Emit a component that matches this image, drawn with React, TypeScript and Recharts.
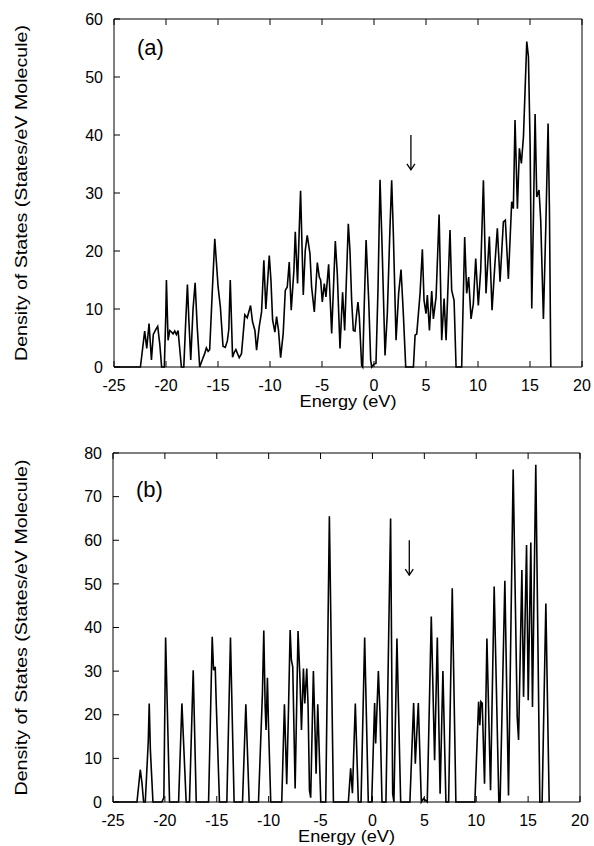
import { LineChart, Line, XAxis, YAxis, ReferenceLine } from "recharts";

const FONT = '"Liberation Sans", Arial, Helvetica, sans-serif';

const energyTicks = [-25, -20, -15, -10, -5, 0, 5, 10, 15, 20];
const dosTicksA = [0, 10, 20, 30, 40, 50, 60];
const dosTicksB = [0, 10, 20, 30, 40, 50, 60, 70, 80];

// panel (a)
const energyA = [
  -25, -22.46, -22.05, -21.85, -21.63, -21.4, -21.22, -21.0, -20.8, -20.6, -20.42, -20.16, -20.02, -19.96,
  -19.8, -19.64, -19.45, -19.32, -19.16, -19.0, -18.84, -18.52, -18.29, -18.1, -17.94, -17.8, -17.62, -17.4,
  -17.2, -17.0, -16.76, -16.5, -16.28, -16.12, -15.95, -15.8, -15.55, -15.31, -14.99, -14.77, -14.52, -14.3,
  -14.1, -13.96, -13.82, -13.6, -13.45, -13.28, -12.96, -12.74, -12.42, -12.19, -11.87, -11.68, -11.45,
  -11.29, -11.04, -10.81, -10.59, -10.4, -10.07, -9.91, -9.75, -9.53, -9.37, -9.18, -8.98, -8.73, -8.53,
  -8.34, -8.15, -7.96, -7.7, -7.57, -7.35, -7.19, -7.06, -6.8, -6.61, -6.42, -6.16, -6.0, -5.74, -5.45,
  -5.26, -5.13, -4.97, -4.78, -4.62, -4.36, -4.07, -3.72, -3.53, -3.27, -3.02, -2.82, -2.47, -2.31, -2.15,
  -1.99, -1.83, -1.67, -1.54, -1.41, -1.19, -1.09, -0.96, -0.76, -0.51, -0.32, -0.22, 0.0, 0.19, 0.39, 0.58,
  0.77, 1.06, 1.28, 1.54, 1.7, 1.86, 2.12, 2.37, 2.6, 2.82, 3.05, 3.79, 3.95, 4.11, 4.43, 4.65, 4.81, 5.0,
  5.13, 5.33, 5.55, 5.71, 5.97, 6.26, 6.51, 6.74, 6.93, 7.31, 7.47, 7.7, 7.89, 8.43, 8.72, 8.91, 9.1, 9.33,
  9.55, 9.78, 10.03, 10.26, 10.52, 10.77, 11.09, 11.35, 11.61, 11.86, 12.12, 12.44, 12.63, 12.92, 13.24,
  13.4, 13.56, 13.79, 13.98, 14.17, 14.37, 14.69, 14.85, 15.01, 15.17, 15.33, 15.49, 15.65, 15.87, 16.03,
  16.29, 16.52, 16.74, 16.87, 17.0,
];
const dosA = [
  0, 0, 6.2, 3.2, 7.5, 1.2, 5.6, 6.4, 7.0, 4.0, 0, 0, 9, 15,
  4.6, 6.3, 6.0, 5.7, 6.2, 5.6, 6.3, 0, 0, 8, 14.2, 8, 1.2, 10,
  14.5, 7, 0, 1.3, 2.3, 3.3, 2.7, 3.0, 13, 22.1, 13.8, 10.3, 3.6, 3.4,
  4.5, 6.5, 15, 1.7, 2.5, 3.0, 1.6, 2.3, 9, 8.5, 10.6, 7.8, 6.3,
  2.9, 6.9, 9.5, 18.4, 10, 19.2, 15, 8.1, 6, 8.7, 6.3, 1.6, 5.8, 13.2,
  13.8, 18.1, 9.8, 16.7, 23.3, 14.4, 23.6, 30.4, 12.4, 20.1, 22.7, 19.6, 13.8, 9.5, 18,
  15.5, 15, 11.2, 14.4, 12.1, 17.7, 5.8, 21.7, 16.1, 3.2, 12.9, 6.3, 24.7, 20, 11.5,
  6.3, 6.2, 9.2, 11.2, 8.6, 0.3, 0, 9.2, 21.9, 11.5, 1.2, 0, 0.5, 0.6, 13.8, 32.3,
  21.3, 2, 9.2, 24.2, 32.2, 23, 4.6, 12.7, 16.8, 9.2, 0, 0, 5.5, 5.7, 12.7, 20.3, 11.5, 9.2,
  12.4, 6.3, 13.1, 8.3, 12.1, 26.3, 4.6, 11.8, 4.6, 23.6, 13.2, 11.5, 0, 0, 22.4, 12.7, 15.5, 8.3,
  10.9, 18.7, 10.6, 16.7, 32.2, 12.7, 22.5, 9.8, 17.3, 23.9, 14.7, 25, 25.3, 15.2, 28.5,
  27.3, 42.6, 27.3, 37.7, 35.1, 39.7, 56.1, 53.5, 38.5, 10.1, 25.9, 43.6, 29.3, 30.5, 25.3,
  8.3, 24.2, 42, 27, 0,
];

// panel (b)
const energyB = [
  -25, -22.69, -22.37, -22.21, -22.05, -21.89, -21.6, -21.51, -21.4, -21.15, -20.29, -20.1, -19.93, -19.55,
  -18.68, -18.36, -17.95, -17.63, -17.27, -16.98, -15.79, -15.44, -15.31, -15.15, -15.06, -14.74, -14.03,
  -13.68, -13.33, -12.52, -12.2, -11.88, -10.98, -10.6, -10.47, -10.34, -10.25, -10.12, -10.02, -9.8, -8.74,
  -8.48, -8.26, -8.1, -7.93, -7.81, -7.68, -7.45, -7.17, -6.98, -6.84, -6.65, -6.52, -6.33, -6.2, -6.07,
  -5.95, -5.69, -5.56, -5.43, -5.27, -5.14, -4.98, -4.5, -4.15, -3.76, -2.32, -2.1, -1.93, -1.65, -1.36,
  -1.1, -0.75, -0.4, -0.07, 0.21, 0.31, 0.41, 0.57, 0.73, 0.92, 1.3, 1.75, 1.95, 2.07, 2.36, 2.72, 3.61,
  3.97, 4.13, 4.42, 4.71, 4.93, 5.28, 5.67, 5.99, 6.25, 6.52, 6.79, 7.08, 7.34, 7.69, 8.04, 9.87, 10.23,
  10.35, 10.45, 10.58, 10.8, 11.03, 11.38, 11.73, 12.18, 12.3, 12.76, 13.11, 13.56, 13.95, 14.08, 14.4,
  14.56, 14.85, 15.01, 15.26, 15.42, 15.74, 16.13, 16.35, 16.71, 17.03,
];
const dosB = [
  0, 0, 7.4, 4.4, 0, 0, 14, 22.6, 12, 0, 0, 1, 37.7, 0,
  0, 22.6, 0, 0, 30.2, 0, 0, 37.9, 30.2, 31, 23.3, 0, 0,
  37.7, 0, 0, 22.4, 0, 0, 25, 39.3, 22, 16.5, 28.5, 18, 0, 0,
  22.4, 4.1, 20, 39.4, 32.5, 31, 3.1, 39.2, 28, 16.5, 30.6, 22.6, 30.6, 21.8, 2.7,
  1, 30, 18.8, 6.5, 22.4, 12.6, 0, 0, 65.5, 0, 0, 7.7, 2, 22.6, 0,
  0, 37.7, 0, 0, 22.7, 13.4, 19.5, 30, 20.3, 0, 0, 65, 1.9, 0, 37.5, 0, 0,
  22.7, 8.8, 22.7, 0, 0.8, 0, 42.5, 9.6, 37.7, 1.9, 30, 0, 0, 49, 0, 0, 23,
  17.6, 23, 22.6, 4.2, 37.5, 2.7, 49.4, 0, 0, 50.7, 1.5, 76.2, 19.5, 14.2, 53.2,
  24.1, 58.9, 23.3, 59.5, 21.8, 77.3, 0, 0, 45.5, 0,
];

// arrow marking the gap (energy, top value, bottom value)
const arrowEnergy = 3.55;
const arrowA = [40, 34];
const arrowB = [60, 52];

const yTitle = "Density of States (States/eV Molecule)";
const xTitle = "Energy (eV)";

const Arrow = (props: any) => {
  const { x1, y1, x2, y2 } = props;
  return (
    <g stroke="#000" strokeWidth={1.3} fill="none">
      <line x1={x1} y1={y1} x2={x2} y2={y2} />
      <polyline points={`${x2 - 4},${y2 - 6} ${x2},${y2} ${x2 + 4},${y2 - 6}`} />
    </g>
  );
};

const YTitle = ({ viewBox }: any) => {
  const cy = viewBox.y + viewBox.height / 2;
  return (
    <text
      transform={`translate(21,${cy}) rotate(-90)`}
      textAnchor="middle"
      dominantBaseline="central"
      fontSize={17}
      fontFamily={FONT}
      fill="#000"
      textLength={336}
      lengthAdjust="spacingAndGlyphs"
    >
      {yTitle}
    </text>
  );
};

const XTitle = ({ viewBox }: any) => (
  <text
    x={viewBox.x + viewBox.width / 2}
    y={viewBox.y + 40}
    textAnchor="middle"
    fontSize={17}
    fontFamily={FONT}
    fill="#000"
    textLength={97}
    lengthAdjust="spacingAndGlyphs"
  >
    {xTitle}
  </text>
);

const PanelTag = ({ viewBox, tag, base }: any) => (
  <text x={viewBox.x + 23} y={viewBox.y + 1 + base} fontSize={22} fontFamily={FONT} fill="#000">
    {tag}
  </text>
);

const tickStyle = { fill: "#000", fontSize: 16, fontFamily: FONT };
const noLabel = () => <g />;

function Panel({ energy, dos, yMax, yTicks, tag, tagBase, arrow, height, margin }: any) {
  const data = energy.map((e: number, i: number) => ({ energy: e, dos: dos[i] }));
  return (
    <LineChart width={594} height={height} data={data} margin={margin}>
      <XAxis
        dataKey="energy"
        type="number"
        domain={[-25, 20]}
        ticks={energyTicks}
        height={1}
        tickSize={-6}
        tickMargin={19}
        tick={tickStyle}
        axisLine={{ stroke: "#000" }}
        tickLine={{ stroke: "#000" }}
        label={<XTitle />}
      />
      <XAxis
        xAxisId="top"
        orientation="top"
        dataKey="energy"
        type="number"
        domain={[-25, 20]}
        ticks={energyTicks}
        height={1}
        tickSize={-6}
        tick={noLabel}
        axisLine={{ stroke: "#000" }}
        tickLine={{ stroke: "#000" }}
        label={<PanelTag tag={tag} base={tagBase} />}
      />
      <YAxis
        type="number"
        domain={[0, yMax]}
        ticks={yTicks}
        width={1}
        tickSize={-6}
        tickMargin={17}
        tick={tickStyle}
        axisLine={{ stroke: "#000" }}
        tickLine={{ stroke: "#000" }}
        label={<YTitle />}
      />
      <YAxis
        yAxisId="right"
        orientation="right"
        type="number"
        domain={[0, yMax]}
        ticks={yTicks}
        width={1}
        tickSize={-6}
        tick={noLabel}
        axisLine={{ stroke: "#000" }}
        tickLine={{ stroke: "#000" }}
      />
      <Line
        dataKey="dos"
        type="linear"
        stroke="#000"
        strokeWidth={1.6}
        dot={false}
        isAnimationActive={false}
      />
      <ReferenceLine
        segment={[
          { x: arrowEnergy, y: arrow[0] },
          { x: arrowEnergy, y: arrow[1] },
        ]}
        shape={Arrow}
      />
    </LineChart>
  );
}

export default function App() {
  return (
    <div style={{ position: "absolute", left: 0, top: 0, width: 594, height: 846, background: "#fff" }}>
      <Panel
        energy={energyA}
        dos={dosA}
        yMax={60}
        yTicks={dosTicksA}
        tag="(a)"
        tagBase={36}
        arrow={arrowA}
        height={420}
        margin={{ top: 18, right: 11, bottom: 52, left: 113 }}
      />
      <Panel
        energy={energyB}
        dos={dosB}
        yMax={80}
        yTicks={dosTicksB}
        tag="(b)"
        tagBase={44}
        arrow={arrowB}
        height={426}
        margin={{ top: 32, right: 13, bottom: 43, left: 112 }}
      />
    </div>
  );
}
